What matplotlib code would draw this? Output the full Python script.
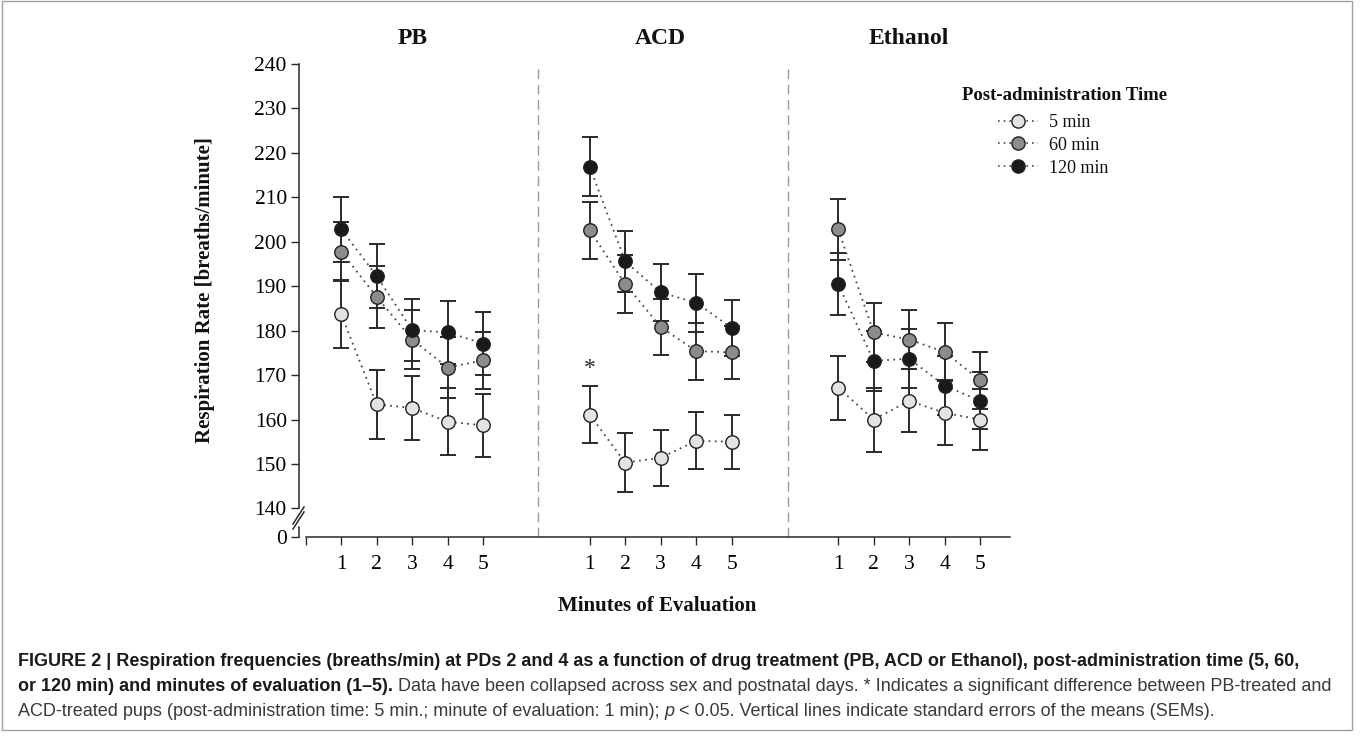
import matplotlib
matplotlib.use("Agg")
import matplotlib.pyplot as plt
from matplotlib.lines import Line2D
from matplotlib.patches import Rectangle, Polygon
from matplotlib.text import Annotation

# ---- data ----
minutes = [1, 2, 3, 4, 5]
drugs = ["PB", "ACD", "Ethanol"]
times = ["5 min", "60 min", "120 min"]

pb_5 = [183.7, 163.4, 162.6, 159.5, 158.7]
pb_5_sem = [7.6, 7.7, 7.3, 7.5, 7.1]
pb_60 = [197.8, 187.6, 178.0, 171.7, 173.3]
pb_60_sem = [6.7, 7.0, 6.6, 6.8, 6.5]
pb_120 = [202.8, 192.3, 180.1, 179.6, 177.1]
pb_120_sem = [7.3, 7.3, 7.0, 7.0, 7.0]

acd_5 = [161.1, 150.3, 151.4, 155.2, 155.0]
acd_5_sem = [6.4, 6.6, 6.3, 6.4, 6.1]
acd_60 = [202.6, 190.5, 180.8, 175.4, 175.1]
acd_60_sem = [6.4, 6.6, 6.3, 6.4, 6.0]
acd_120 = [216.9, 195.6, 188.6, 186.3, 180.6]
acd_120_sem = [6.7, 6.9, 6.5, 6.5, 6.2]

eth_5 = [167.2, 160.0, 164.2, 161.5, 160.0]
eth_5_sem = [7.2, 7.2, 7.1, 7.3, 6.8]
eth_60 = [202.8, 179.6, 178.0, 175.2, 168.8]
eth_60_sem = [6.8, 6.7, 6.7, 6.6, 6.4]
eth_120 = [190.5, 173.2, 173.7, 167.6, 164.2]
eth_120_sem = [6.9, 6.7, 6.7, 6.6, 6.4]

means = [[pb_5, pb_60, pb_120], [acd_5, acd_60, acd_120], [eth_5, eth_60, eth_120]]
sems = [[pb_5_sem, pb_60_sem, pb_120_sem], [acd_5_sem, acd_60_sem, acd_120_sem],
        [eth_5_sem, eth_60_sem, eth_120_sem]]

yticks = [140, 150, 160, 170, 180, 190, 200, 210, 220, 230, 240]
star_value = 171.5  # position of the significance star (ACD, 5 min, minute 1)

# ---- style ----
fills = ["#e3e3e3", "#8c8c8c", "#1a1a1a"]
ink = "#2a2a2a"
plt.rcParams["font.family"] = ["Liberation Serif", "DejaVu Serif"]

W, H = 1360, 740
fig = plt.figure(figsize=(W / 100, H / 100), dpi=100)

def fx(px):
    return px / W

def fy(py):
    return 1 - py / H

gap = 7  # x offset between drug groups
xl = (-0.18, 19.9)
px_per_unit = 444.4 / 100.0

ax = fig.add_axes([fx(299.3), fy(508.4), fx(1012.1) - fx(299.3), 444.4 / H])
ax0 = fig.add_axes([fx(299.3), fy(537), fx(1012.1) - fx(299.3), 28.6 / H])

for a in (ax, ax0):
    a.set_xlim(*xl)
    a.patch.set_visible(False)
    a.spines["top"].set_visible(False)
    a.spines["right"].set_visible(False)
    a.spines["left"].set_color(ink)
    a.spines["left"].set_linewidth(1.1)
    a.tick_params(axis="y", length=6, width=1.0, color=ink, labelsize=15.5, pad=3)

ax.set_ylim(140, 240)
ax.spines["bottom"].set_visible(False)
ax.spines["left"].set_bounds(140, 240)
ax.set_xticks([])
ax.set_yticks(yticks)

ax0.set_ylim(0, 28.6 / px_per_unit)
ax0.set_yticks([0])
ax0.spines["left"].set_bounds(0, 2.2)
ax0.spines["bottom"].set_bounds(0, 19.85)
ax0.spines["bottom"].set_color(ink)
ax0.spines["bottom"].set_linewidth(1.1)
xt = [0] + [gap * g + m for g in range(3) for m in minutes]
ax0.set_xticks(xt)
ax0.set_xticklabels([""] + [str(m) for g in range(3) for m in minutes])
ax0.tick_params(axis="x", length=6, width=1.0, color=ink, labelsize=15.5, pad=7)

# axis break marks
fig.add_artist(Polygon([(fx(293), fy(524)), (fx(303), fy(508)), (fx(303), fy(514)),
                        (fx(293), fy(530))], closed=True, color="white", zorder=5))
for off in (0, 5):
    fig.add_artist(Line2D([fx(293), fx(304)], [fy(524 + off), fy(507 + off)],
                          color=ink, lw=1.1, zorder=6))

# group separators
for xs in (6.55, 13.6):
    ax.axvline(xs, ymin=-28.6 / 444.4, ymax=1.0, clip_on=False, color="#9a9a9a",
               lw=1.0, dashes=(7, 4))

# series
for g in range(3):
    xs = [gap * g + m for m in minutes]
    for k in range(3):
        ax.errorbar(xs, means[g][k], yerr=sems[g][k], fmt="none", ecolor=ink,
                    elinewidth=1.4, capsize=6, capthick=1.4, zorder=2)
    for k in range(3):
        ax.plot(xs, means[g][k], ls=(0, (1, 2.4)), color="#4a4a4a", lw=1.3, zorder=3)
    for k in range(3):
        ax.plot(xs, means[g][k], ls="none", marker="o", ms=9.7, mfc=fills[k],
                mec="#202020", mew=1.0, zorder=4 + k)

ax.text(gap * 1 + 1, star_value, "*", ha="center", va="center", fontsize=17, color=ink)

# panel titles
for g, name in enumerate(drugs):
    fig.text(fx(299.3 + (gap * g + 3 - xl[0]) * 35.5), fy(39), name, ha="center",
             va="center", fontsize=17, fontweight="bold", color="#111111")

fig.text(fx(205), fy(290), "Respiration Rate [breaths/minute]", rotation=90,
         ha="center", va="center", fontsize=15, fontweight="bold", color="#111111")
fig.text(fx(657), fy(606), "Minutes of Evaluation", ha="center", va="center",
         fontsize=15, fontweight="bold", color="#111111")

# legend
fig.text(fx(1065), fy(96), "Post-administration Time", ha="center", va="center",
         fontsize=13.5, fontweight="bold", color="#111111")
handles = [Line2D([], [], ls=(0, (1, 2.4)), color="#4a4a4a", lw=1.2, marker="o", ms=9.5,
                  mfc=fills[k], mec="#202020", mew=1.0) for k in range(3)]
fig.legend(handles, times, loc="upper left", bbox_to_anchor=(fx(998), fy(114)),
           frameon=False, fontsize=13, handlelength=2.2, handletextpad=0.6,
           labelspacing=0.32, borderpad=0, borderaxespad=0, labelcolor="#111111")

# outer frame
fig.add_artist(Rectangle((fx(2), fy(730)), fx(1352) - fx(2), fy(1) - fy(730),
                         fill=False, edgecolor="#a0a0a0", lw=1.0))

# caption
cap_family = ["Liberation Sans Narrow", "Liberation Sans", "DejaVu Sans"]
line1 = [("FIGURE 2 | Respiration frequencies (breaths/min) at PDs 2 and 4 as a function of "
          "drug treatment (PB, ACD or Ethanol), post-administration time (5, 60,", "bold")]
line2 = [("or 120 min) and minutes of evaluation (1\u20135).", "bold"),
         (" Data have been collapsed across sex and postnatal days. * Indicates a significant "
          "difference between PB-treated and", "normal")]
line3 = [("ACD-treated pups (post-administration time: 5 min.; minute of evaluation: 1 min); ",
          "normal"), ("p", "italic"),
         (" < 0.05. Vertical lines indicate standard errors of the means (SEMs).", "normal")]


def piece_kw(style, size):
    kw = dict(fontsize=size, family=cap_family,
              color="#1a1a1a" if style == "bold" else "#3a3a3a")
    if style == "bold":
        kw["fontweight"] = "bold"
    if style == "italic":
        kw["fontstyle"] = "italic"
    return kw


# scale the caption so its widest line fits the frame
renderer = fig.canvas.get_renderer()
widest = 0
for line in (line1, line2, line3):
    total = 0
    for s, style in line:
        probe = fig.text(0, 0, s, **piece_kw(style, 12))
        total += probe.get_window_extent(renderer).width
        probe.remove()
    widest = max(widest, total)
cap_fs = 12 * 1318 / widest


def caption_line(pieces, x_px, y_px):
    prev = None
    for s, style in pieces:
        kw = piece_kw(style, cap_fs)
        if prev is None:
            prev = fig.text(fx(x_px), fy(y_px), s, ha="left", va="baseline", **kw)
        else:
            prev = fig.add_artist(Annotation(s, xy=(1, 0), xycoords=prev, ha="left",
                                             va="bottom", **kw))


caption_line(line1, 18, 666)
caption_line(line2, 18, 691)
caption_line(line3, 18, 716)

fig.savefig("out.png", dpi=100)
